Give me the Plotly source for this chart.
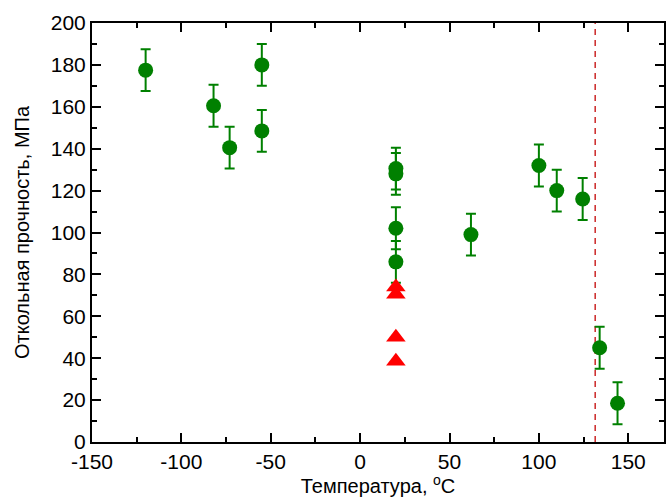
import plotly.graph_objects as go

# Data
temp_c = [-120, -82, -73, -55, -55, 20, 20, 20, 20, 62, 100, 110, 124.5, 134, 144]
spall_c = [177.5, 160.5, 140.5, 180, 148.5, 130.5, 128, 102, 86, 99, 132, 120, 116, 45, 18.5]
err_c = [10] * len(temp_c)

temp_t = [20, 20, 20, 20]
spall_t = [74, 70.5, 50, 38.5]

dash_x = 131.5

x_ticks = [-150, -100, -50, 0, 50, 100, 150]
y_ticks = [0, 20, 40, 60, 80, 100, 120, 140, 160, 180, 200]

fig = go.Figure()

fig.add_trace(go.Scatter(
    x=[dash_x, dash_x], y=[0, 200], mode="lines",
    line=dict(color="#c81818", width=1.4, dash="6px,5px"),
    showlegend=False, hoverinfo="skip"))

fig.add_trace(go.Scatter(
    x=temp_c, y=spall_c, mode="markers",
    marker=dict(symbol="circle", size=15, color="#008000"),
    error_y=dict(type="data", array=err_c, visible=True, color="#008000",
                 thickness=2, width=5),
    showlegend=False))

fig.add_trace(go.Scatter(
    x=temp_t, y=spall_t, mode="markers",
    marker=dict(symbol="triangle-up", size=17, color="#ff0000"),
    showlegend=False))

font_family = "Liberation Sans, Arial, sans-serif"

fig.update_layout(
    width=671, height=497,
    margin=dict(l=92, r=5, t=23, b=55),
    plot_bgcolor="white", paper_bgcolor="white",
    font=dict(family=font_family, color="black"),
    xaxis=dict(
        range=[-150, 170], tickvals=x_ticks, ticktext=[str(v) for v in x_ticks],
        ticks="inside", ticklen=9, tickwidth=1.5, tickcolor="black",
        minor=dict(dtick=25, tick0=-150, ticks="inside", ticklen=5, tickwidth=1.5, tickcolor="black"),
        showline=True, linecolor="black", linewidth=2, mirror="ticks",
        showgrid=False, zeroline=False,
        tickfont=dict(size=21),
        title=dict(text="Температура, <sup>o</sup>C", font=dict(size=20), standoff=2),
    ),
    yaxis=dict(
        range=[0, 200], tickvals=y_ticks, ticktext=[str(v) for v in y_ticks],
        ticks="inside", ticklen=9, tickwidth=1.5, tickcolor="black",
        minor=dict(dtick=10, tick0=0, ticks="inside", ticklen=5, tickwidth=1.5, tickcolor="black"),
        showline=True, linecolor="black", linewidth=2, mirror="ticks",
        showgrid=False, zeroline=False,
        tickfont=dict(size=21),
        title=dict(text="Откольная прочность, МПа", font=dict(size=20), standoff=16),
    ),
)

fig.write_html("out.html")
